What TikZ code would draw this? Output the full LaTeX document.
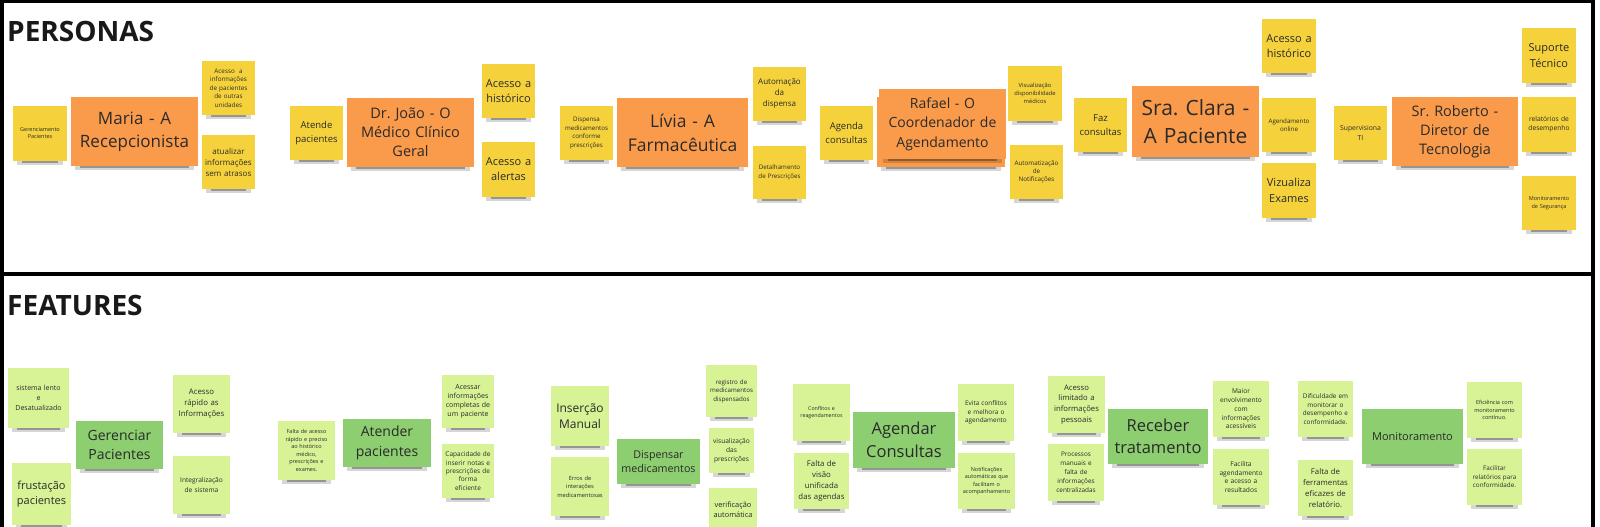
\documentclass[tikz,border=0pt]{standalone}
\usepackage{fontspec}
\setmainfont{Open Sans}
\frenchspacing
\definecolor{yel}{HTML}{F5D23C}
\definecolor{ora}{HTML}{FA9B4B}
\definecolor{lgr}{HTML}{D8F296}
\definecolor{dgr}{HTML}{8DCE70}
\definecolor{ink}{HTML}{2A2A2A}
\tikzset{
  notebase/.style={draw=none, inner sep=0pt, align=center, text=ink},
  ynote/.style={notebase, fill=yel},
  onote/.style={notebase, fill=ora},
  gnote/.style={notebase, fill=lgr},
  dnote/.style={notebase, fill=dgr},
  frameline/.style={line width=3.5pt, black},
  heading/.style={anchor=base west, inner sep=0pt, text=black!90, font=\fontsize{28}{34}\selectfont\bfseries},
  shadeA/.style={black, opacity=0.16},
  shadeB/.style={black, opacity=0.3}
}
% name, x1, y1, x2, y2, style, font size, skip, text
\newcommand{\sticky}[9]{%
  \pgfmathsetmacro\stw{#4-#2-2}%
  \fill[shadeA] ({#2+4},{#5-1}) rectangle ({#4-4},{#5+3.5});
  \fill[shadeB] ({#2+9},{#5}) rectangle ({#4-9},{#5+2.2});
  \node[#6, minimum width={#4-#2}, minimum height={#5-#3}, text width=\stw pt,
        font=\fontsize{#7}{#8}\selectfont] (#1) at ({(#2+#4)/2},{(#3+#5)/2}) {#9};%
}
\begin{document}
\begin{tikzpicture}[x=1pt,y=-1pt]
\useasboundingbox (0,0) rectangle (1600,527);
\fill[white] (0,0) rectangle (1600,527);
% frames
\draw[frameline] (1.75,527) -- (1.75,1.75) -- (1593,1.75) -- (1593,527);
\draw[frameline] (1.75,274) -- (1593,274);
\node[heading] (personas) at (7,42) {PERSONAS};
\node[heading] (features) at (7,315) {FEATURES};

% ---------- PERSONAS ----------
\sticky{gp}{13}{106}{67}{161}{ynote}{5.5}{7}{Gerenciamento\\Pacientes}
\sticky{maria}{71}{97}{198}{166}{onote}{17}{23}{Maria - A\\Recepcionista}
\sticky{ma1}{202}{61}{255}{115}{ynote}{6.3}{8.5}{Acesso\ \ a\\informações\\de pacientes\\de outras\\unidades}
\sticky{ma2}{202}{135}{255}{189}{ynote}{8}{11}{atualizar\\informações\\sem atrasos}
\sticky{at}{290}{106}{343}{160}{ynote}{9.5}{13.5}{Atende\\pacientes}
\sticky{joao}{347}{98}{474}{167}{onote}{14.5}{19}{Dr. João - O\\Médico Clínico\\Geral}
\sticky{jo1}{482}{64}{535}{118}{ynote}{11}{15}{Acesso a\\histórico}
\sticky{jo2}{482}{142}{535}{197}{ynote}{11}{15}{Acesso a\\alertas}
\sticky{di}{560}{106}{613}{160}{ynote}{6.2}{8.7}{Dispensa\\medicamentos\\conforme\\prescrições}
\sticky{livia}{617}{98}{748}{167}{onote}{17.5}{24}{Lívia - A\\Farmacêutica}
\sticky{li1}{753}{67}{806}{121}{ynote}{8}{11}{Automação\\da\\dispensa}
\sticky{li2}{753}{146}{806}{199}{ynote}{6.2}{8.3}{Detalhamento\\de Prescrições}
\sticky{ag}{820}{106}{873}{160}{ynote}{9.5}{13.5}{Agenda\\consultas}
\sticky{rafaelback}{877}{97}{1005}{167}{onote}{14}{19.5}{}
\sticky{rafael}{879}{89}{1006}{159}{onote}{14}{19.5}{Rafael - O\\Coordenador de\\Agendamento}
\sticky{ra1}{1008}{66}{1062}{121}{ynote}{5.8}{8}{Visualização\\disponibilidade\\médicos}
\sticky{ra2}{1010}{145}{1063}{199}{ynote}{6.3}{8.3}{Automatização\\de\\Notificações}
\sticky{fz}{1074}{98}{1127}{152}{ynote}{9.5}{13.5}{Faz\\consultas}
\sticky{clara}{1132}{86}{1259}{157}{onote}{21}{28}{Sra. Clara -\\A Paciente}
\sticky{cl1}{1262}{19}{1316}{73}{ynote}{11}{14.5}{Acesso a\\histórico}
\sticky{cl2}{1262}{98}{1316}{152}{ynote}{6.2}{8.3}{Agendamento\\online}
\sticky{cl3}{1262}{163}{1316}{218}{ynote}{11}{15.5}{Vizualiza\\Exames}
\sticky{sv}{1334}{106}{1387}{160}{ynote}{6.8}{9.5}{Supervisiona\\TI}
\sticky{roberto}{1392}{97}{1518}{166}{onote}{14.5}{19}{Sr. Roberto -\\Diretor de\\Tecnologia}
\sticky{ro1}{1522}{28}{1576}{83}{ynote}{11}{15.5}{Suporte\\Técnico}
\sticky{ro2}{1522}{97}{1576}{152}{ynote}{6.7}{9.3}{relatórios de\\desempenho}
\sticky{ro3}{1522}{176}{1576}{230}{ynote}{5.5}{7.7}{Monitoramento\\de Segurança}

% ---------- FEATURES ----------
\sticky{f1}{8}{368}{69}{428}{gnote}{7}{10}{sistema lento\\e\\Desatualizado}
\sticky{gerenciar}{76}{421}{163}{469}{dnote}{14}{19.5}{Gerenciar\\Pacientes}
\sticky{f2}{12}{463}{71}{525}{gnote}{11}{14.5}{frustação\\pacientes}
\sticky{f3}{173}{375}{230}{433}{gnote}{7.8}{11}{Acesso\\rápido as\\Informações}
\sticky{f4}{173}{456}{230}{514}{gnote}{6.6}{9.3}{Integralização\\de sistema}
\sticky{f5}{278}{421}{335}{480}{gnote}{5.5}{7.5}{Falta de acesso\\rápido e preciso\\ao histórico\\médico,\\prescrições e\\exames.}
\sticky{atender}{343}{419}{431}{467}{dnote}{14}{19.5}{Atender\\pacientes}
\sticky{f6}{442}{375}{494}{428}{gnote}{7}{9}{Acessar\\informações\\completas de\\um paciente}
\sticky{f7}{442}{444}{494}{498}{gnote}{6.5}{8.3}{Capacidade de\\inserir notas e\\prescrições de\\forma\\eficiente}
\sticky{f8}{551}{386}{609}{446}{gnote}{12}{16.5}{Inserção\\Manual}
\sticky{f9}{551}{457}{609}{516}{gnote}{5.7}{8.5}{Erros de\\interações\\medicamentosas}
\sticky{dispensar}{617}{439}{700}{484}{dnote}{10.7}{14}{Dispensar\\medicamentos}
\sticky{f10}{706}{365}{757}{417}{gnote}{6.2}{8.5}{registro de\\medicamentos\\dispensados}
\sticky{f11}{709}{428}{754}{473}{gnote}{6.6}{8.8}{visualização\\das\\prescrições}
\sticky{f12}{709}{488}{757}{532}{gnote}{7.4}{10}{verificação\\automática}
\sticky{f13}{793}{384}{850}{441}{gnote}{5.3}{7.5}{Conflitos e\\reagendamentos}
\sticky{f14}{794}{453}{849}{509}{gnote}{7.8}{10.7}{Falta de\\visão\\unificada\\das agendas}
\sticky{agendar}{853}{412}{955}{468}{dnote}{16.5}{23}{Agendar\\Consultas}
\sticky{f15}{958}{384}{1014}{441}{gnote}{6.4}{8.6}{Evita conflitos\\e melhora o\\agendamento}
\sticky{f16}{958}{453}{1015}{509}{gnote}{5.5}{7.6}{Notificações\\automáticas que\\facilitam o\\acompanhamento}
\sticky{f17}{1048}{376}{1105}{433}{gnote}{7.7}{10.8}{Acesso\\limitado a\\informações\\pessoais}
\sticky{f18}{1048}{444}{1104}{501}{gnote}{6.4}{8.9}{Processos\\manuais e\\falta de\\informações\\centralizadas}
\sticky{receber}{1108}{409}{1208}{464}{dnote}{16.5}{22}{Receber\\tratamento}
\sticky{f19}{1213}{381}{1269}{437}{gnote}{6.6}{8.8}{Maior\\envolvimento\\com\\informações\\acessíveis}
\sticky{f20}{1213}{449}{1269}{505}{gnote}{6.6}{8.7}{Facilita\\agendamento\\e acesso a\\resultados}
\sticky{f21}{1298}{381}{1353}{437}{gnote}{6.4}{8.7}{Dificuldade em\\monitorar o\\desempenho e\\conformidade.}
\sticky{f22}{1298}{460}{1353}{516}{gnote}{7.8}{11}{Falta de\\ferramentas\\eficazes de\\relatório.}
\sticky{monit}{1362}{409}{1463}{464}{dnote}{11}{14}{Monitoramento}
\sticky{f23}{1467}{382}{1522}{438}{gnote}{5.5}{7.8}{Eficiência com\\monitoramento\\contínuo.}
\sticky{f24}{1467}{449}{1522}{505}{gnote}{6.3}{8.5}{Facilitar\\relatórios para\\conformidade.}
\end{tikzpicture}
\end{document}
